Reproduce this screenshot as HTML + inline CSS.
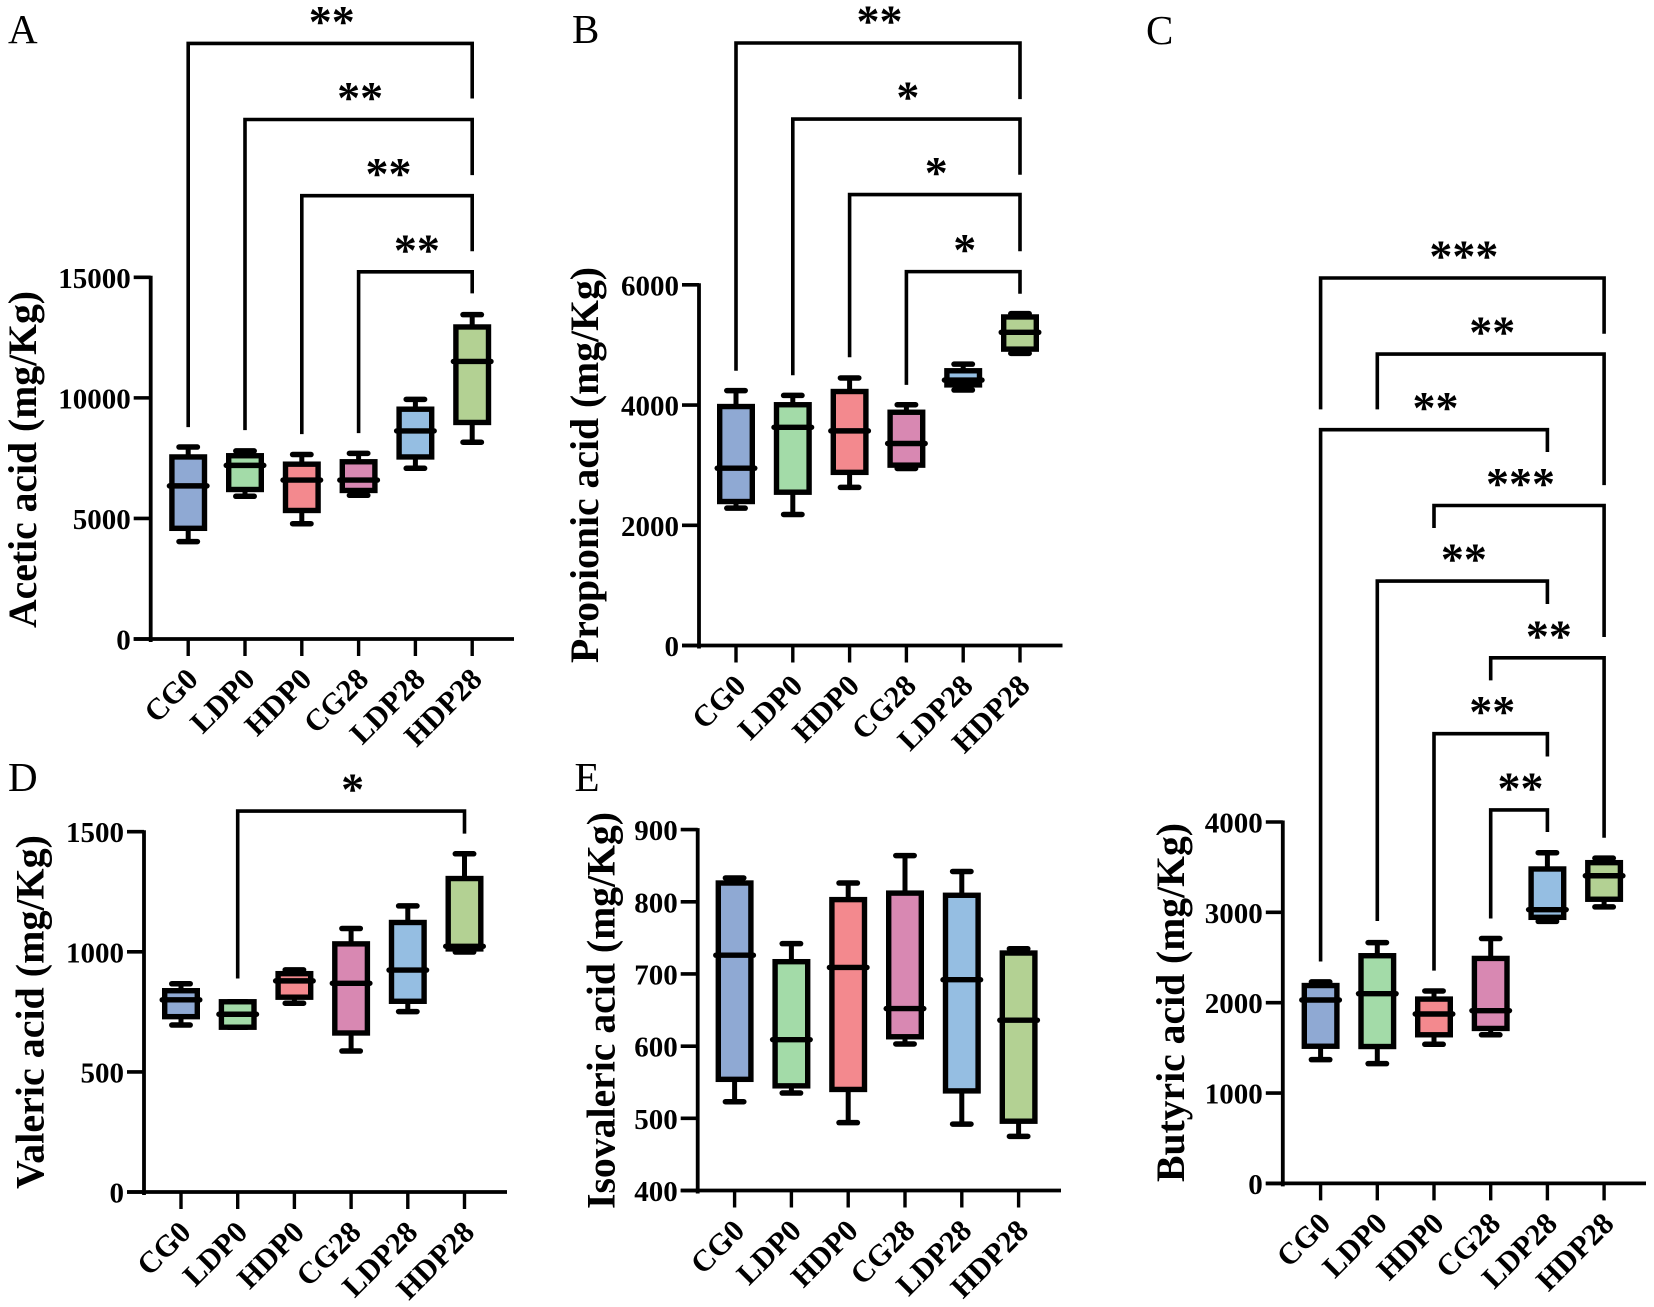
<!DOCTYPE html>
<html lang="en">
<head>
<meta charset="utf-8">
<title>Short-chain fatty acids box plots</title>
<style>
html,body{margin:0;padding:0;background:#fff}
svg{display:block}
text{font-family:"Liberation Serif",serif;fill:#000}
.bold{font-weight:700}
</style>
</head>
<body>
<svg id="figure" xmlns="http://www.w3.org/2000/svg" width="1654" height="1307" viewBox="0 0 1654 1307">
<rect x="0" y="0" width="1654" height="1307" fill="#ffffff"/>
</svg>
<script>
const categories = ["CG0","LDP0","HDP0","CG28","LDP28","HDP28"];
const boxColors = ["#8FA9D3","#A3DBA8","#F3898E","#D888B2","#95BEE2","#B3D193"];

const aceticTicks = [0,5000,10000,15000];
const aceticLow = [4040,5920,4780,5960,7080,8160];
const aceticQ1 = [4590,6200,5330,6160,7550,8980];
const aceticMedian = [6350,7200,6590,6590,8630,11510];
const aceticQ3 = [7550,7600,7250,7350,9530,12940];
const aceticHigh = [7960,7800,7650,7700,9940,13450];
const aceticFrom = [0,1,2,3];
const aceticTo = [5,5,5,5];
const aceticTop = [24700,21544,18386,15229];
const aceticLeftEnd = [8788,8663,8497,8539];
const aceticRightEnd = [22417,19238,16080,14335];
const aceticStars = ["**","**","**","**"];

const propionicTicks = [0,2000,4000,6000];
const propionicLow = [2285,2180,2630,2945,4250,4860];
const propionicQ1 = [2395,2550,2880,3000,4335,4930];
const propionicMedian = [2950,3630,3570,3360,4415,5210];
const propionicQ3 = [3975,4005,4225,3880,4570,5465];
const propionicHigh = [4240,4160,4450,4005,4680,5520];
const propionicFrom = [0,1,2,3];
const propionicTo = [5,5,5,5];
const propionicTop = [10022,8757,7501,6219];
const propionicLeftEnd = [4570,4495,4794,4335];
const propionicRightEnd = [9089,7831,6559,5852];
const propionicStars = ["**","*","*","*"];

const butyricTicks = [0,1000,2000,3000,4000];
const butyricLow = [1370,1325,1540,1645,2900,3060];
const butyricQ1 = [1518,1515,1645,1715,2945,3145];
const butyricMedian = [2030,2100,1875,1912,3030,3405];
const butyricQ3 = [2190,2520,2040,2490,3480,3550];
const butyricHigh = [2230,2665,2130,2710,3660,3600];
const butyricFrom = [0,1,0,2,1,3,2,3];
const butyricTo = [5,5,4,5,4,5,4,4];
const butyricTop = [10021,9179,8342,7503,6667,5817,4978,4133];
const butyricLeftEnd = [8567,8567,2456,7254,2904,5567,2355,2932];
const butyricRightEnd = [9404,7728,8095,6048,6413,3825,4725,3889];
const butyricStars = ["***","**","**","***","**","**","**","**"];

const valericTicks = [0,500,1000,1500];
const valericLow = [695,686,786,587,751,999];
const valericQ1 = [730,686,811,662,794,1012];
const valericMedian = [800,740,879,869,924,1023];
const valericQ3 = [838,792,909,1033,1122,1305];
const valericHigh = [867,792,925,1097,1191,1408];
const valericFrom = [1];
const valericTo = [5];
const valericTop = [1586];
const valericLeftEnd = [889];
const valericRightEnd = [1492];
const valericStars = ["*"];

const isovalericTicks = [400,500,600,700,800,900];
const isovalericLow = [523,535,494,603,492,475];
const isovalericQ1 = [554,545,540,613,538,496];
const isovalericMedian = [726,609,709,652,692,636];
const isovalericQ3 = [826,717,803,812,809,729];
const isovalericHigh = [833,742,826,864,842,735];
const isovalericFrom = [];
const isovalericTo = [];
const isovalericTop = [];
const isovalericLeftEnd = [];
const isovalericRightEnd = [];
const isovalericStars = [];

const svg = document.getElementById("figure");
const NS = "http://www.w3.org/2000/svg";

function make(tag, parent, attrs, content) {
  const node = document.createElementNS(NS, tag);
  for (const key in attrs) node.setAttribute(key, attrs[key]);
  if (content !== undefined) node.textContent = content;
  parent.appendChild(node);
  return node;
}

function linePath(parent, d, width, cap) {
  return make("path", parent, {d: d, fill: "none", stroke: "#000", "stroke-width": width, "stroke-linecap": cap || "butt", "stroke-linejoin": "miter"});
}

function drawPanel(p) {
  const g = make("g", svg, {});
  
  

  const yScale = v => p.yBottom - (v - p.min) / (p.max - p.min) * (p.yBottom - p.yTop);
  const xScale = i => p.x0 + i * p.dx;

  const letter = make("text", g, {x: p.letterX, y: p.letterY, "font-size": 41}, p.letter);
  
  

  const title = make("text", g, {
    transform: "translate(" + p.titleX + "," + p.titleY2 + ") rotate(-90)",
    class: "bold", "font-size": 40, textLength: p.titleY2 - p.titleY1, lengthAdjust: "spacingAndGlyphs"
  }, p.title);
  
  

  const yAxis = linePath(g, "M" + p.axisX + " " + (p.yTop - 1.5) + "V" + (p.yBottom + 3), 3.8);
  
  

  const xAxis = linePath(g, "M" + (p.axisX - 17) + " " + p.yBottom + "H" + p.xEnd, 3.8);
  
  

  p.ticks.forEach(t => {
    const y = yScale(t);
    const mark = linePath(g, "M" + (p.axisX - 17) + " " + y + "H" + p.axisX, 3.6);
    
    
    const label = make("text", g, {x: p.axisX - 20, y: y + 10.5, class: "bold", "font-size": 29, "text-anchor": "end"}, t);
    
    
  });

  categories.forEach((c, i) => {
    const x = xScale(i);
    const mark = linePath(g, "M" + x + " " + p.yBottom + "V" + (p.yBottom + 17), 3.4);
    
    
    const label = make("text", g, {transform: "translate(" + (x + 11.5) + "," + (p.yBottom + 42) + ") rotate(-45)", class: "bold", "font-size": 30.5, "text-anchor": "end"}, c);
    
    
  });

  categories.forEach((c, i) => {
    const x = xScale(i);
    const box = make("g", g, {});
    
    

    const whisker = linePath(box, "M" + x + " " + yScale(p.low[i]) + "V" + yScale(p.high[i]), 5);
    
    

    const capLow = linePath(box, "M" + (x - 9.2) + " " + yScale(p.low[i]) + "H" + (x + 9.2), 5.5, "round");
    
    

    const capHigh = linePath(box, "M" + (x - 9.2) + " " + yScale(p.high[i]) + "H" + (x + 9.2), 5.5, "round");
    
    

    const rect = make("rect", box, {
      x: x - 16.3, y: yScale(p.q3[i]), width: 32.6, height: yScale(p.q1[i]) - yScale(p.q3[i]),
      fill: boxColors[i], stroke: "#000", "stroke-width": 5.4
    });
    
    

    const median = linePath(box, "M" + (x - 18.8) + " " + yScale(p.median[i]) + "H" + (x + 18.8), 5.4, "round");
    
    
  });

  p.from.forEach((f, i) => {
    const xa = xScale(f);
    const xb = xScale(p.to[i]);
    const top = yScale(p.top[i]);
    const bracket = linePath(g, "M" + xa + " " + yScale(p.leftEnd[i]) + "V" + top + "H" + xb + "V" + yScale(p.rightEnd[i]), 3.6);
    
    
    const stars = make("text", g, {x: (xa + xb) / 2 + 1.5, y: top - 6.5, class: "bold", "font-size": 46, "text-anchor": "middle"}, p.stars[i]);
    
    
  });
}

drawPanel({key:"acetic", letter:"A", letterX:8, letterY:43, title:"Acetic acid (mg/Kg)", titleX:36, titleY1:291, titleY2:628,
  axisX:150.7, yBottom:639, yTop:277.3, min:0, max:15000, x0:188.2, dx:56.8, xEnd:514,
  ticks:aceticTicks, low:aceticLow, q1:aceticQ1, median:aceticMedian, q3:aceticQ3, high:aceticHigh,
  from:aceticFrom, to:aceticTo, top:aceticTop, leftEnd:aceticLeftEnd, rightEnd:aceticRightEnd, stars:aceticStars});

drawPanel({key:"propionic", letter:"B", letterX:572, letterY:43, title:"Propionic acid (mg/Kg)", titleX:598, titleY1:267, titleY2:663,
  axisX:699, yBottom:645.5, yTop:284.8, min:0, max:6000, x0:736, dx:56.8, xEnd:1062.5,
  ticks:propionicTicks, low:propionicLow, q1:propionicQ1, median:propionicMedian, q3:propionicQ3, high:propionicHigh,
  from:propionicFrom, to:propionicTo, top:propionicTop, leftEnd:propionicLeftEnd, rightEnd:propionicRightEnd, stars:propionicStars});

drawPanel({key:"butyric", letter:"C", letterX:1146, letterY:44, title:"Butyric acid (mg/Kg)", titleX:1184, titleY1:823, titleY2:1182,
  axisX:1282.8, yBottom:1183.4, yTop:822, min:0, max:4000, x0:1320.6, dx:56.7, xEnd:1646,
  ticks:butyricTicks, low:butyricLow, q1:butyricQ1, median:butyricMedian, q3:butyricQ3, high:butyricHigh,
  from:butyricFrom, to:butyricTo, top:butyricTop, leftEnd:butyricLeftEnd, rightEnd:butyricRightEnd, stars:butyricStars});

drawPanel({key:"valeric", letter:"D", letterX:8, letterY:791, title:"Valeric acid (mg/Kg)", titleX:43.6, titleY1:835, titleY2:1189,
  axisX:144, yBottom:1192, yTop:831.7, min:0, max:1500, x0:181, dx:56.7, xEnd:507,
  ticks:valericTicks, low:valericLow, q1:valericQ1, median:valericMedian, q3:valericQ3, high:valericHigh,
  from:valericFrom, to:valericTo, top:valericTop, leftEnd:valericLeftEnd, rightEnd:valericRightEnd, stars:valericStars});

drawPanel({key:"isovaleric", letter:"E", letterX:574.5, letterY:791, title:"Isovaleric acid (mg/Kg)", titleX:614.4, titleY1:812, titleY2:1209,
  axisX:697.7, yBottom:1190.5, yTop:829.6, min:400, max:900, x0:734.6, dx:56.8, xEnd:1061,
  ticks:isovalericTicks, low:isovalericLow, q1:isovalericQ1, median:isovalericMedian, q3:isovalericQ3, high:isovalericHigh,
  from:isovalericFrom, to:isovalericTo, top:isovalericTop, leftEnd:isovalericLeftEnd, rightEnd:isovalericRightEnd, stars:isovalericStars});
</script>
</body>
</html>
